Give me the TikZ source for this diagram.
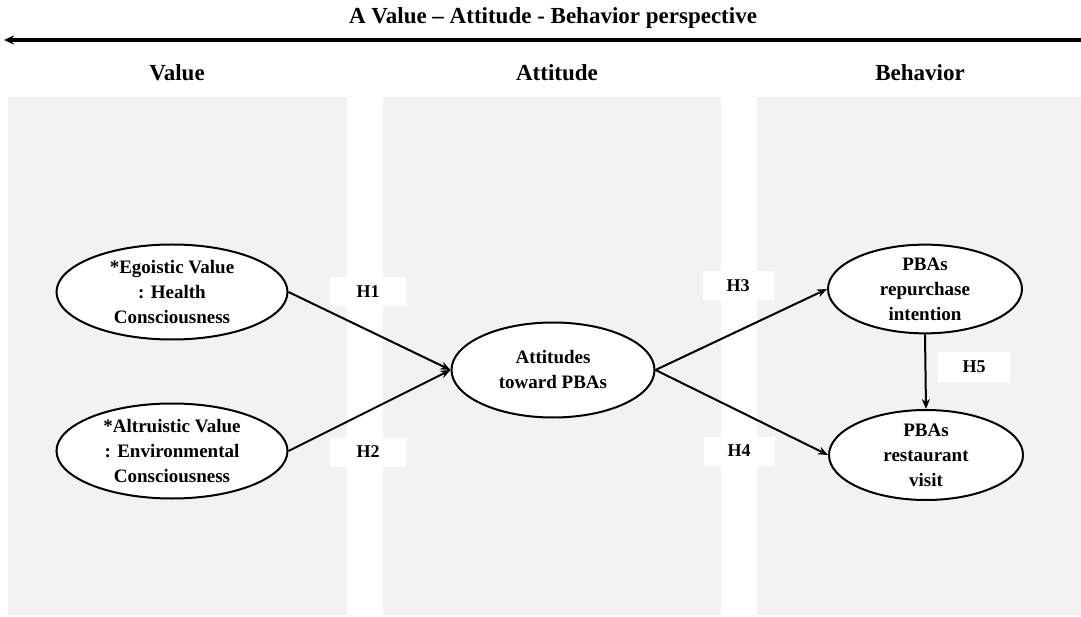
\documentclass[tikz,border=0pt]{standalone}
\usepackage{fontspec}
\setmainfont{Liberation Serif}
\usetikzlibrary{arrows.meta,shapes.geometric}
\definecolor{panelgray}{HTML}{F2F2F2}
\tikzset{
  panel/.style={fill=panelgray, draw=none},
  construct/.style={ellipse, draw=black, line width=2pt, fill=white, align=center,
    font=\bfseries\fontsize{19}{25}\selectfont, inner sep=0pt},
  hyplabel/.style={fill=white, minimum width=76pt, minimum height=29pt,
    font=\bfseries\fontsize{18}{20}\selectfont},
  header/.style={font=\bfseries\fontsize{23}{26}\selectfont},
  hpath/.style={line width=2pt, -{Stealth[length=10pt,width=8pt]}}
}
\begin{document}
\begin{tikzpicture}[x=1pt,y=-1pt]
\useasboundingbox (0,0) rectangle (1081,617);
% background columns
\fill[panel] (8,97) rectangle (347,615);
\fill[panel] (383,97) rectangle (721,615);
\fill[panel] (757,97) rectangle (1081,615);

% perspective heading and arrow
\node[header] (title) at (553,18) {A Value -- Attitude - Behavior perspective};
\coordinate (arrR) at (1081,40);
\coordinate (arrL) at (4,40);
\draw[line width=3.2pt, -{Stealth[length=10pt,width=9pt]}] (arrR) -- (arrL);

\node[header] (hV) at (177,73) {Value};
\node[header] (hA) at (557,73) {Attitude};
\node[header] (hB) at (920,73) {Behavior};

% constructs
\node[construct, minimum width=231pt, minimum height=95pt] (ego) at (172,292)
  {*Egoistic Value\\: Health\\Consciousness};
\node[construct, minimum width=231pt, minimum height=95pt] (alt) at (172,451)
  {*Altruistic Value\\: Environmental\\Consciousness};
\node[construct, minimum width=203pt, minimum height=95pt] (att) at (553,370)
  {Attitudes\\toward PBAs};
\node[construct, minimum width=194pt, minimum height=88pt] (rep) at (925,289)
  {PBAs\\repurchase\\intention};
\node[construct, minimum width=194pt, minimum height=90pt] (vis) at (926,455)
  {PBAs\\restaurant\\visit};

% hypothesis labels
\node[hyplabel] (H1) at (368,292) {H1};
\node[hyplabel] (H2) at (368,452) {H2};
\node[hyplabel, minimum width=71pt] (H3) at (738,286) {H3};
\node[hyplabel, minimum width=71pt] (H4) at (739,451) {H4};
\node[hyplabel, minimum width=72pt] (H5) at (974,367) {H5};

% hypothesised paths
\draw[hpath] (ego.east) -- (att.west);
\draw[hpath] (alt.east) -- (att.west);
\draw[hpath] (att.east) -- (rep.west);
\draw[hpath] (att.east) -- (vis.west);
\draw[hpath] (rep.south) -- (vis.north);
\end{tikzpicture}
\end{document}
